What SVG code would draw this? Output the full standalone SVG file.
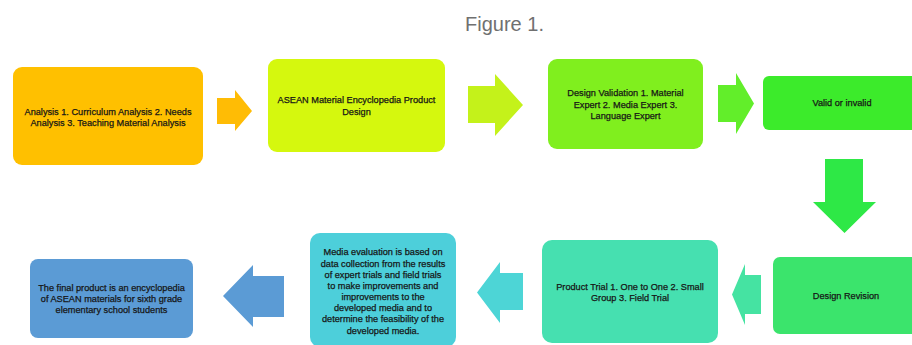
<svg xmlns="http://www.w3.org/2000/svg" width="912" height="345" viewBox="0 0 912 345">
<style>
.t{font-family:"Liberation Sans",Arial,sans-serif;font-size:9.2px;fill:#161616;stroke:#161616;stroke-width:0.25px;text-anchor:middle}
.title{font-family:"Liberation Sans",Arial,sans-serif;font-size:20px;fill:#707070;text-anchor:middle}
</style>
<rect width="912" height="345" fill="#ffffff"/>
<text class="title" x="504.5" y="31">Figure 1.</text>
<g id="connectors">
<polygon points="217,98 235,98 235,90 252,111 235,131 235,124 217,124" fill="#FFBC05"/>
<polygon points="468,86 495,86 495,74 523,105 495,136 495,123 468,123" fill="#C4F21A"/>
<polygon points="718,85 736,85 736,73 754,103.5 736,134 736,122 718,122" fill="#62EE2A"/>
<polygon points="825,159 863,159 863,202 876,202 844.5,233 813,202 825,202" fill="#2EE846"/>
<polygon points="761,275 745,275 745,264 732,294.5 745,325 745,314 761,314" fill="#45E3A2"/>
<polygon points="523,273 500,273 500,262 477,292.5 500,323 500,310 523,310" fill="#4DD5D6"/>
<polygon points="284,276 253,276 253,265 223,296 253,327 253,317 284,317" fill="#5B9BD5"/>
</g>
<g id="node-analysis">
<rect x="13" y="67" width="190" height="98" rx="9" fill="#FFC000"/>
<text class="t" x="108" y="115">Analysis 1. Curriculum Analysis 2. Needs</text>
<text class="t" x="108" y="125.5">Analysis 3. Teaching Material Analysis</text>
</g>
<g id="node-design">
<rect x="268" y="59" width="177" height="93" rx="9" fill="#D5F80E"/>
<text class="t" x="356.5" y="103">ASEAN Material Encyclopedia Product</text>
<text class="t" x="356.5" y="114.5">Design</text>
</g>
<g id="node-validation">
<rect x="548" y="59" width="155" height="90" rx="9" fill="#80EF1E"/>
<text class="t" x="625.5" y="96">Design Validation 1. Material</text>
<text class="t" x="625.5" y="107.5">Expert 2. Media Expert 3.</text>
<text class="t" x="625.5" y="119">Language Expert</text>
</g>
<g id="node-valid">
<rect x="763" y="76" width="160" height="54" rx="6" fill="#3CEB2B"/>
<text class="t" x="842" y="106">Valid or invalid</text>
</g>
<g id="node-revision">
<rect x="773" y="257" width="150" height="77" rx="7" fill="#3BE46C"/>
<text class="t" x="846" y="299">Design Revision</text>
</g>
<g id="node-trial">
<rect x="542" y="240" width="176" height="103" rx="10" fill="#46E0B0"/>
<text class="t" x="630" y="290">Product Trial 1. One to One 2. Small</text>
<text class="t" x="630" y="300.5">Group 3. Field Trial</text>
</g>
<g id="node-evaluation">
<rect x="310" y="233" width="146" height="114" rx="10" fill="#4DCFDA"/>
<text class="t" x="383" y="255">Media evaluation is based on</text>
<text class="t" x="383" y="266.5">data collection from the results</text>
<text class="t" x="383" y="277.5">of expert trials and field trials</text>
<text class="t" x="383" y="288.5">to make improvements and</text>
<text class="t" x="383" y="299.5">improvements to the</text>
<text class="t" x="383" y="311">developed media and to</text>
<text class="t" x="383" y="322">determine the feasibility of the</text>
<text class="t" x="383" y="333.5">developed media.</text>
</g>
<g id="node-final">
<rect x="30" y="259" width="163" height="79" rx="8" fill="#5B9BD5"/>
<text class="t" x="111.5" y="291">The final product is an encyclopedia</text>
<text class="t" x="111.5" y="302">of ASEAN materials for sixth grade</text>
<text class="t" x="111.5" y="313">elementary school students</text>
</g>
</svg>
